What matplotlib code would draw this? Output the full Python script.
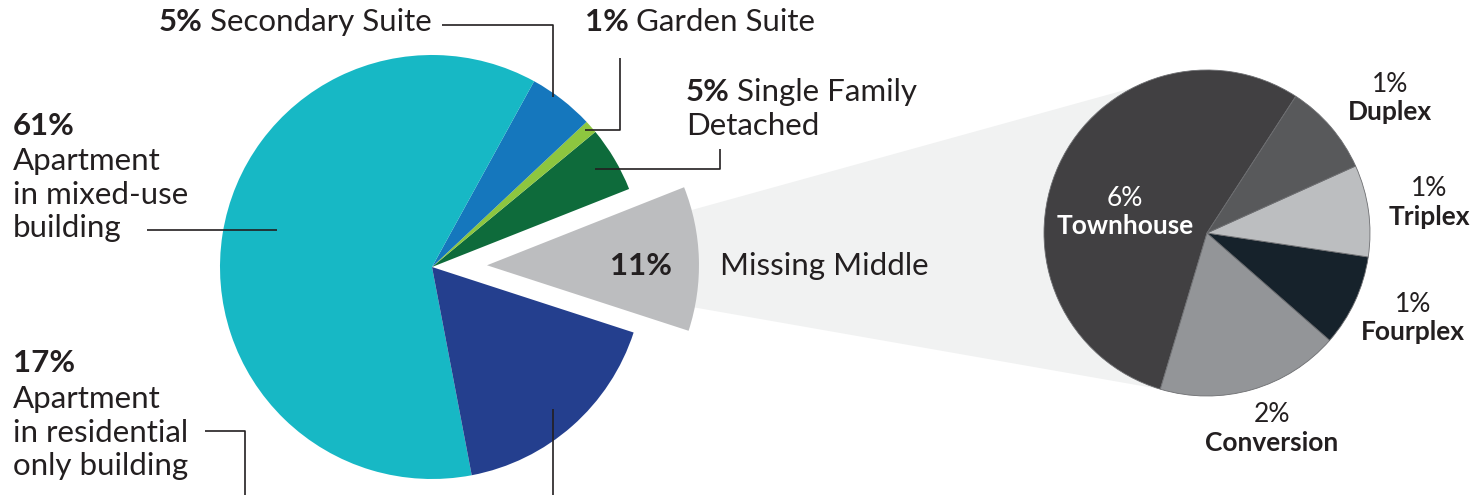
import numpy as np
import matplotlib
matplotlib.use("Agg")
import matplotlib.pyplot as plt
from matplotlib.patches import Polygon

# ---------------- data ----------------
main_labels = ["Missing Middle", "Single Family Detached", "Garden Suite",
               "Secondary Suite", "Apartment in mixed-use building",
               "Apartment in residential only building"]
main_values = [11, 5, 1, 5, 61, 17]
main_colors = ["#bcbdbf", "#0e6b3b", "#8dc63f", "#1577bd", "#17b8c5", "#243f8e"]

sub_labels = ["Townhouse", "Conversion", "Fourplex", "Triplex", "Duplex"]
sub_values = [6, 2, 1, 1, 1]
sub_colors = ["#414042", "#939598", "#16222b", "#bcbec0", "#58595b"]

TXT = "#231f20"
W, H = 1484, 495
plt.rcParams['font.family'] = ['Lato', 'DejaVu Sans']

fig = plt.figure(figsize=(W / 100, H / 100), dpi=100)
ax = fig.add_axes([0, 0, 1, 1])


def Y(py):
    return H - py


main_center = (432, Y(267))
main_r = 212
explode = [55, 0, 0, 0, 0, 0]
wedges, _ = ax.pie(main_values, colors=main_colors, startangle=-18,
                   counterclock=True, radius=main_r, center=main_center,
                   explode=explode, wedgeprops=dict(linewidth=0), frame=True)

sub_center = (1207, Y(233))
sub_r = 163
sw, _ = ax.pie(sub_values, colors=sub_colors, startangle=57, counterclock=True,
               radius=sub_r, center=sub_center,
               wedgeprops=dict(linewidth=0.6, edgecolor="#6d6e71"), frame=True)

# connecting band
g = wedges[0]
gc = np.array(g.center)
def arcpt(c, r, ang):
    a = np.deg2rad(ang)
    return (c[0] + r * np.cos(a), c[1] + r * np.sin(a))
p1 = arcpt(gc, g.r - 2, g.theta2 - 6.5)
p4 = arcpt(gc, g.r - 2, g.theta1 + 6.5)
p2 = arcpt(sub_center, sub_r, 117)
p3 = arcpt(sub_center, sub_r, sw[0].theta2)
band = Polygon([p1, p2, sub_center, p3, p4], closed=True,
               facecolor="#f1f2f2", edgecolor="none", zorder=0)
ax.add_patch(band)

ax.set_xlim(0, W)
ax.set_ylim(0, H)
ax.set_aspect('equal')
ax.axis('off')

fig.canvas.draw()
renderer = fig.canvas.get_renderer()

FS = 22.5
LW = 'normal'


def two_part(x, py, bold, regular, size=FS):
    t = ax.text(x, Y(py), bold, fontsize=size, fontweight='bold', color=TXT,
                ha='left', va='center')
    bb = t.get_window_extent(renderer=renderer)
    inv = ax.transData.inverted()
    x2 = inv.transform((bb.x1, 0))[0] + 7
    ax.text(x2, Y(py), regular, fontsize=size, color=TXT, ha='left', va='center',
            fontweight=LW)


def line(pts):
    xs = [p[0] for p in pts]
    ys = [Y(p[1]) for p in pts]
    ax.plot(xs, ys, color="#231f20", lw=1.2, solid_capstyle='butt')


# top labels
two_part(159, 22, "5%", "Secondary Suite")
line([(442, 25), (553, 25), (553, 97)])
two_part(585, 22, "1%", "Garden Suite")
line([(620, 58), (620, 130), (585, 130)])
two_part(686, 92, "5%", "Single Family")
ax.text(686, Y(126), "Detached", fontsize=FS, color=TXT, ha='left', va='center',
        fontweight=LW)
line([(720, 149), (720, 169), (595, 169)])

# left labels
ax.text(13, Y(126), "61%", fontsize=FS, fontweight='bold', color=TXT, va='center')
for i, s in enumerate(["Apartment", "in mixed-use", "building"]):
    ax.text(13, Y(161 + 33.5 * i), s, fontsize=FS, color=TXT, va='center',
            fontweight=LW)
line([(147, 230), (277, 230)])

ax.text(13, Y(363), "17%", fontsize=FS, fontweight='bold', color=TXT, va='center')
for i, s in enumerate(["Apartment", "in residential", "only building"]):
    ax.text(13, Y(399 + 33.5 * i), s, fontsize=FS, color=TXT, va='center',
            fontweight=LW)
line([(205, 431), (245, 431), (245, 495)])
line([(553, 409), (553, 495)])

# missing middle
ax.text(672, Y(266), "11%", fontsize=FS, fontweight='bold', color=TXT,
        ha='right', va='center')
ax.text(720, Y(266), "Missing Middle", fontsize=FS, color=TXT, ha='left',
        va='center', fontweight=LW)

# sub pie labels
SFS = 19
ax.text(1125, Y(199), "6%", fontsize=SFS, color='white', ha='center', va='center')
ax.text(1125, Y(226), "Townhouse", fontsize=SFS, fontweight='bold', color='white',
        ha='center', va='center')
for (x, y), name, pct in [((1390, 84), "Duplex", "1%"), ((1429, 189), "Triplex", "1%"),
                          ((1413, 304), "Fourplex", "1%"),
                          ((1272, 415), "Conversion", "2%")]:
    ax.text(x, Y(y), pct, fontsize=SFS, color=TXT, ha='center', va='center')
    ax.text(x, Y(y + 28), name, fontsize=SFS, fontweight='bold', color=TXT,
            ha='center', va='center')

fig.savefig("out.png", dpi=100)
